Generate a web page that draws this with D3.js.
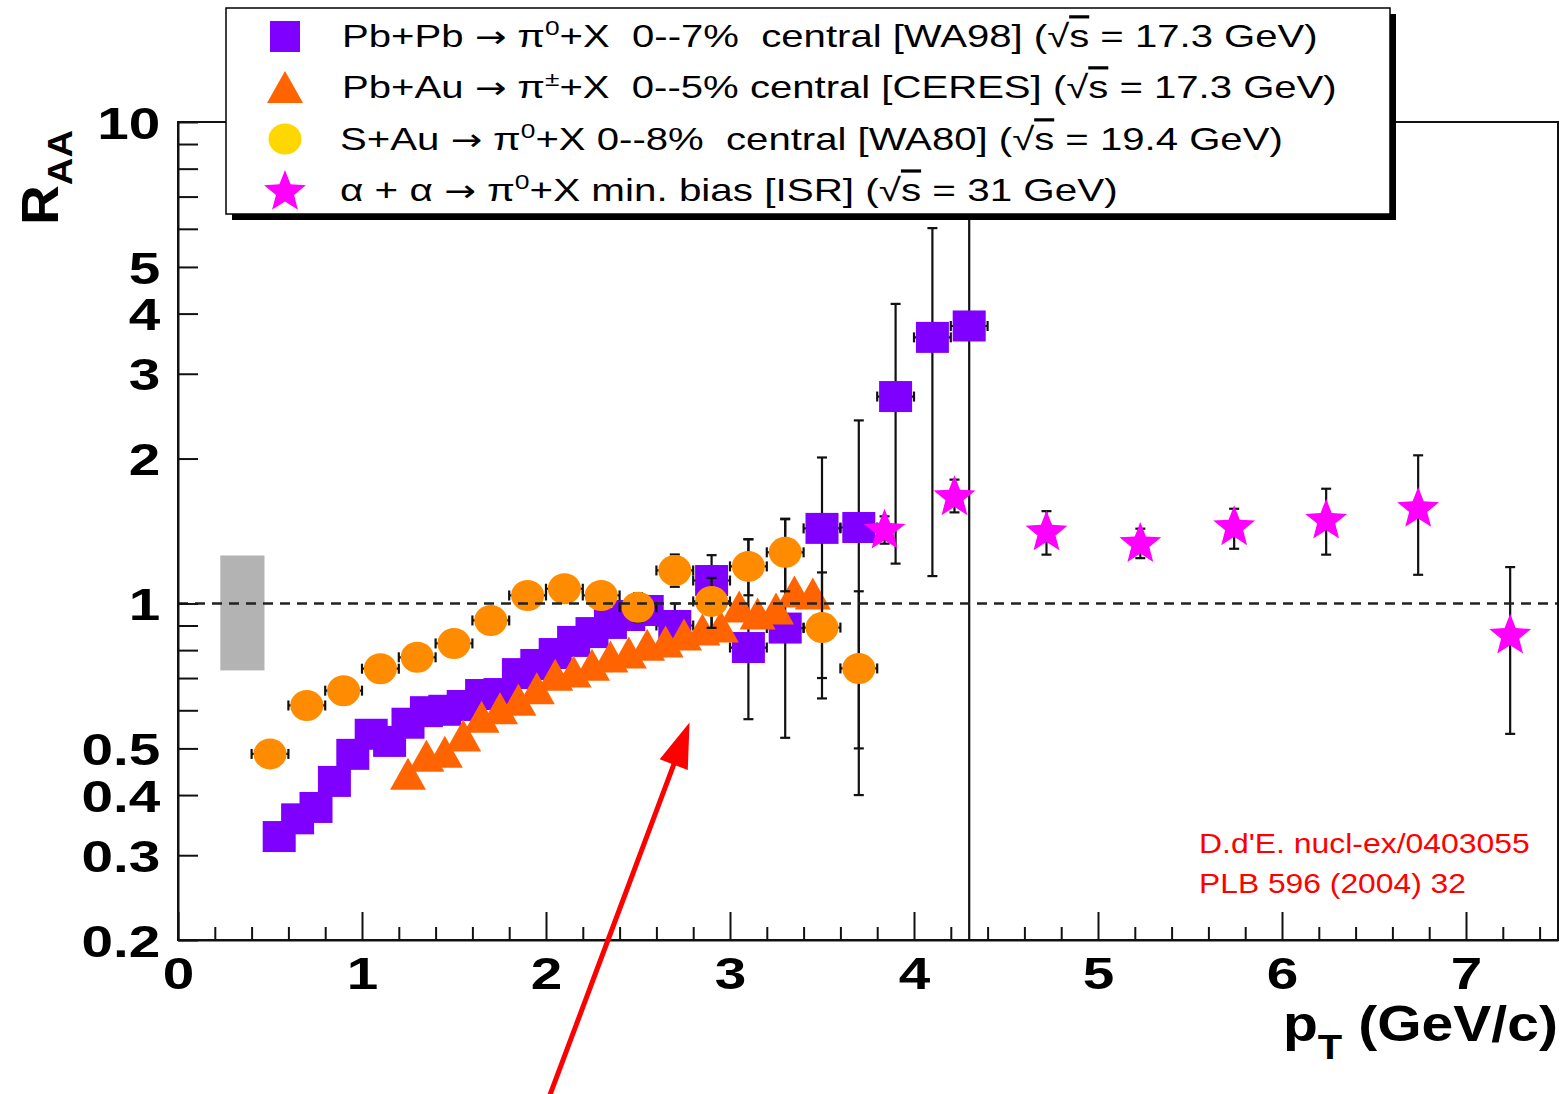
<!doctype html>
<html lang="en">
<head>
<meta charset="utf-8">
<title>R_AA vs pT, SPS and ISR</title>
<style>
body { margin: 0; background: #fff; }
svg text { font-family: "Liberation Sans", Arial, Helvetica, sans-serif; }
.legend text { white-space: pre; }
</style>
<script src="https://d3js.org/d3.v7.min.js"></script>
</head>
<body>
<div class="chart"></div>
<script>

// WA98 Pb+Pb -> pi0, 0-7% central
const wa98X  = [0.55, 0.65, 0.75, 0.85, 0.95, 1.05, 1.15, 1.25, 1.35, 1.45, 1.55, 1.65, 1.75, 1.85, 1.95,
                2.05, 2.15, 2.25, 2.35, 2.45, 2.55, 2.7, 2.9, 3.1, 3.3, 3.5, 3.7, 3.9, 4.1, 4.3];
const wa98Y  = [0.328, 0.357, 0.377, 0.427, 0.486, 0.535, 0.517, 0.564, 0.596, 0.600, 0.614, 0.647, 0.650, 0.715, 0.747,
                0.787, 0.834, 0.870, 0.909, 0.944, 0.967, 0.90, 1.116, 0.81, 0.889, 1.432, 1.438, 2.69, 3.57, 3.77];
const wa98Lo = [null, null, null, null, null, null, null, null, null, null, null, null, null, null, null,
                null, null, null, null, null, null, 0.82, 0.89, 0.575, 0.526, 0.635, 0.40, 1.21, 1.14, 0.15];
const wa98Hi = [null, null, null, null, null, null, null, null, null, null, null, null, null, null, null,
                null, null, null, null, null, null, 1.0, 1.26, 1.359, 1.496, 2.01, 2.40, 4.19, 6.02, 15];
const wa98Ex = [0.05, 0.05, 0.05, 0.05, 0.05, 0.05, 0.05, 0.05, 0.05, 0.05, 0.05, 0.05, 0.05, 0.05, 0.05,
                0.05, 0.05, 0.05, 0.05, 0.05, 0.05, 0.1, 0.1, 0.1, 0.1, 0.1, 0.1, 0.1, 0.1, 0.1];

// CERES Pb+Au -> pi+-, 0-5% central
const ceresX = [1.25, 1.35, 1.45, 1.55, 1.65, 1.75, 1.85, 1.95, 2.05, 2.15, 2.25, 2.35,
                2.45, 2.55, 2.65, 2.75, 2.85, 2.95, 3.05, 3.15, 3.25, 3.35, 3.45];
const ceresY = [0.443, 0.483, 0.492, 0.532, 0.582, 0.606, 0.631, 0.667, 0.711, 0.722, 0.746, 0.776,
                0.791, 0.821, 0.834, 0.862, 0.883, 0.896, 0.986, 0.953, 0.976, 1.059, 1.049];

// WA80 S+Au -> pi0, 0-8% central
const wa80X  = [0.5, 0.7, 0.9, 1.1, 1.3, 1.5, 1.7, 1.9, 2.1, 2.3, 2.5, 2.7, 2.9, 3.1, 3.3, 3.5, 3.7];
const wa80Y  = [0.487, 0.614, 0.659, 0.732, 0.773, 0.826, 0.922, 1.039, 1.073, 1.039, 0.982, 1.171, 1.01, 1.194, 1.277, 0.891, 0.733];
const wa80Lo = [null, null, null, null, null, null, null, null, null, null, 0.915, 1.083, 0.89, 1.04, 1.06, 0.70, 0.50];
const wa80Hi = [null, null, null, null, null, null, null, null, null, null, 1.05, 1.264, 1.13, 1.36, 1.50, 1.16, 1.06];
const wa80Ex = [0.1, 0.1, 0.1, 0.1, 0.1, 0.1, 0.1, 0.1, 0.1, 0.1, 0.1, 0.1, 0.1, 0.1, 0.1, 0.1, 0.1];

// ISR alpha+alpha -> pi0, min. bias
const isrX  = [3.84, 4.22, 4.72, 5.23, 5.74, 6.24, 6.74, 7.24];
const isrY  = [1.43, 1.677, 1.418, 1.341, 1.453, 1.50, 1.586, 0.865];
const isrLo = [1.331, 1.546, 1.263, 1.242, 1.299, 1.263, 1.147, 0.536];
const isrHi = [1.517, 1.808, 1.555, 1.43, 1.573, 1.731, 2.031, 1.19];

// normalisation uncertainty box at R_AA = 1
const boxX = [0.23, 0.47];
const boxY = [0.726, 1.258];

// axis ticks
const xMajor = [0, 1, 2, 3, 4, 5, 6, 7];
const xMinor = [0.2, 0.4, 0.6, 0.8, 1.2, 1.4, 1.6, 1.8, 2.2, 2.4, 2.6, 2.8, 3.2, 3.4, 3.6, 3.8,
                4.2, 4.4, 4.6, 4.8, 5.2, 5.4, 5.6, 5.8, 6.2, 6.4, 6.6, 6.8, 7.2, 7.4];
const yTicks  = [0.2, 0.3, 0.4, 0.5, 0.6, 0.7, 0.8, 0.9, 1, 2, 3, 4, 5, 6, 7, 8, 9, 10];
const yLabels = [0.2, 0.3, 0.4, 0.5, 1, 2, 3, 4, 5, 10];

// legend
const legendRows = [
  [["Pb+Pb "], ["\u2192", "arrow"], [" \u03c0"], ["0", "sup"], ["+X  0--7%  central [WA98] (\u221a"], ["s", "ol"], [" = 17.3 GeV)"]],
  [["Pb+Au "], ["\u2192", "arrow"], [" \u03c0"], ["\u00b1", "sup"], ["+X  0--5% central [CERES] (\u221a"], ["s", "ol"], [" = 17.3 GeV)"]],
  [["S+Au "], ["\u2192", "arrow"], [" \u03c0"], ["0", "sup"], ["+X 0--8%  central [WA80] (\u221a"], ["s", "ol"], [" = 19.4 GeV)"]],
  [["\u03b1 + \u03b1 "], ["\u2192", "arrow"], [" \u03c0"], ["0", "sup"], ["+X min. bias [ISR] (\u221a"], ["s", "ol"], [" = 31 GeV)"]]
];
const legendMarkers = ["square", "triangle", "circle", "star"];

const noteLines = ["D.d'E. nucl-ex/0403055", "PLB 596 (2004) 32"];
const arrowFrom = [2.02, 0.095];
const arrowTo   = [2.78, 0.566];

const W = 1563, H = 1094;
const L = 178, R = 1558, T = 122, B = 940;

const colSquare = "#7f00ff", colTri = "#ff6400", colCirc = "#ff8c00", colCircLeg = "#ffd700", colStar = "#ff00ff";

let svg = d3.select(".chart").append("svg")
  .attr("width", W).attr("height", H);

let x = d3.scaleLinear().domain([0, 7.5]).range([L, R]);
let y = d3.scaleLog().domain([0.2, 10]).range([B, T]);

svg.append("defs").append("clipPath").attr("id", "plotclip")
  .append("rect").attr("x", L).attr("y", T).attr("width", R - L).attr("height", B - T);

// marker shapes, centred on 0,0
function starPath(Ro, Ri) {
  let pts = [];
  for (let i = 0; i < 10; i++) {
    let r = i % 2 ? Ri : Ro;
    let a = -Math.PI / 2 + i * Math.PI / 5;
    pts.push([r * Math.cos(a), r * Math.sin(a) + 2]);
  }
  return "M" + pts.map(p => p.join(",")).join("L") + "Z";
}
function drawMarker(g, kind, cx, cy, col) {
  if (kind === "square") {
    g.append("rect").attr("x", cx - 16.5).attr("y", cy - 15.5).attr("width", 33).attr("height", 31).attr("fill", col);
  } else if (kind === "triangle") {
    g.append("path").attr("d", `M${cx},${cy - 16}L${cx + 18},${cy + 16}L${cx - 18},${cy + 16}Z`).attr("fill", col);
  } else if (kind === "circle") {
    g.append("ellipse").attr("cx", cx).attr("cy", cy).attr("rx", 16.5).attr("ry", 15.5).attr("fill", col);
  } else {
    g.append("path").attr("d", starPath(22, 9.5)).attr("transform", `translate(${cx},${cy})`).attr("fill", col);
  }
}

function drawSeries(xs, ys, lo, hi, ex, kind, col) {
  let g = svg.append("g").attr("clip-path", "url(#plotclip)");
  let eb = g.append("g").attr("stroke", "#111").attr("stroke-width", 2.2).attr("fill", "none");
  xs.forEach((xv, i) => {
    let cx = x(xv), cy = y(ys[i]);
    if (lo && lo[i] != null) {
      let y0 = y(lo[i]), y1 = y(hi[i]);
      eb.append("line").attr("x1", cx).attr("x2", cx).attr("y1", y0).attr("y2", y1);
      eb.append("line").attr("x1", cx - 5).attr("x2", cx + 5).attr("y1", y0).attr("y2", y0);
      eb.append("line").attr("x1", cx - 5).attr("x2", cx + 5).attr("y1", y1).attr("y2", y1);
    }
    if (ex) {
      let x0 = x(xv - ex[i]), x1 = x(xv + ex[i]);
      eb.append("line").attr("x1", x0).attr("x2", x1).attr("y1", cy).attr("y2", cy);
      eb.append("line").attr("x1", x0).attr("x2", x0).attr("y1", cy - 5).attr("y2", cy + 5);
      eb.append("line").attr("x1", x1).attr("x2", x1).attr("y1", cy - 5).attr("y2", cy + 5);
    }
  });
  let mk = g.append("g");
  xs.forEach((xv, i) => drawMarker(mk, kind, x(xv), y(ys[i]), col));
}

// grey normalisation box
svg.append("rect")
  .attr("x", x(boxX[0])).attr("width", x(boxX[1]) - x(boxX[0]))
  .attr("y", y(boxY[1])).attr("height", y(boxY[0]) - y(boxY[1]))
  .attr("fill", "#b3b3b3");

drawSeries(wa98X, wa98Y, wa98Lo, wa98Hi, wa98Ex, "square", colSquare);
drawSeries(ceresX, ceresY, null, null, null, "triangle", colTri);
drawSeries(wa80X, wa80Y, wa80Lo, wa80Hi, wa80Ex, "circle", colCirc);
drawSeries(isrX, isrY, isrLo, isrHi, null, "star", colStar);

// R_AA = 1 reference
svg.append("line")
  .attr("x1", L).attr("x2", R).attr("y1", y(1)).attr("y2", y(1))
  .attr("stroke", "#222").attr("stroke-width", 2.4).attr("stroke-dasharray", "10,7");

// frame
svg.append("rect").attr("x", L).attr("y", T).attr("width", R - L).attr("height", B - T)
  .attr("fill", "none").attr("stroke", "#111").attr("stroke-width", 2);

// x axis
let xAxis = svg.append("g").attr("transform", `translate(0,${B})`)
  .call(d3.axisBottom(x).tickValues(xMajor).tickSizeInner(-28).tickSizeOuter(0).tickPadding(17).tickFormat(d3.format("d")));
svg.append("g").attr("transform", `translate(0,${B})`)
  .call(d3.axisBottom(x).tickValues(xMinor).tickSizeInner(-13).tickSizeOuter(0).tickFormat(""))
  .call(g => g.select(".domain").remove());

// y axis
let yAxis = svg.append("g").attr("transform", `translate(${L},0)`)
  .call(d3.axisLeft(y).tickValues(yTicks).tickSizeInner(-20).tickSizeOuter(0).tickPadding(14)
    .tickFormat(d => yLabels.includes(d) ? String(d) : ""));

svg.selectAll(".tick line, .domain").attr("stroke", "#111").attr("stroke-width", 2);
svg.selectAll(".tick text")
  .attr("fill", "#000")
  .style("font-size", "45px").style("font-weight", "bold")
  .attr("transform", "scale(1.26,1)");
yAxis.selectAll(".tick text").attr("dy", "0.36em");

// stretch a text element to a given width
function fitText(t, x0, y0, width, rot) {
  let w = t.node().getBBox().width;
  t.attr("transform", `translate(${x0},${y0})${rot ? " rotate(" + rot + ")" : ""} scale(${width / w},1)`);
}

// axis titles
let yt = svg.append("text").style("font-weight", "bold").style("font-size", "52px").attr("fill", "#000");
yt.append("tspan").text("R");
yt.append("tspan").attr("dy", 14).style("font-size", "36px").text("AA");
fitText(yt, 58, 225, 95, -90);

let xt = svg.append("text").style("font-weight", "bold").style("font-size", "50px").attr("fill", "#000");
xt.append("tspan").text("p");
xt.append("tspan").attr("dy", 18).style("font-size", "35px").text("T");
xt.append("tspan").attr("dy", -18).text(" (GeV/c)");
fitText(xt, 1283, 1041, 275);

// legend
let leg = svg.append("g").attr("class", "legend");
leg.append("rect").attr("x", 232).attr("y", 14).attr("width", 1164).attr("height", 206).attr("fill", "#000");
leg.append("rect").attr("x", 226).attr("y", 8).attr("width", 1164).attr("height", 206)
  .attr("fill", "#fff").attr("stroke", "#000").attr("stroke-width", 1.5);

const rowY = [36, 87, 139, 190];
const rowX0 = [342, 342, 340, 340];
const rowW = [976, 995, 943, 778];
const legCols = [colSquare, colTri, colCircLeg, colStar];

legendRows.forEach((parts, i) => {
  let mg = leg.append("g");
  if (legendMarkers[i] === "square") {
    mg.append("rect").attr("x", 285 - 15).attr("y", rowY[i] - 15).attr("width", 30).attr("height", 31).attr("fill", legCols[i]);
  } else {
    drawMarker(mg, legendMarkers[i], 285, rowY[i], legCols[i]);
  }
  let t = leg.append("text").style("font-size", "32px").attr("fill", "#000");
  let shift = 0;
  parts.forEach(p => {
    let s = t.append("tspan").text(p[0]);
    if (p[1] === "sup") {
      s.attr("dy", -12).style("font-size", "21px");
      shift = 12;
    } else {
      if (shift) { s.attr("dy", shift); shift = 0; }
      if (p[1] === "ol") s.style("text-decoration", "overline");
      if (p[1] === "arrow") s.style("font-family", "'DejaVu Sans', sans-serif").style("font-size", "30px");
    }
  });
  fitText(t, rowX0[i], rowY[i] + 11, rowW[i]);
});

// reference note
const noteW = [331, 267];
noteLines.forEach((s, i) => {
  let t = svg.append("text").style("font-size", "28px").attr("fill", "#ff0000").text(s);
  fitText(t, 1199, 853 + i * 40, noteW[i]);
});

// red arrow
let p0 = [x(arrowFrom[0]), y(arrowFrom[1])], p1 = [x(arrowTo[0]), y(arrowTo[1])];
let dx = p1[0] - p0[0], dy = p1[1] - p0[1], len = Math.hypot(dx, dy);
let ux = dx / len, uy = dy / len;
let hb = [p1[0] - ux * 45, p1[1] - uy * 45];
svg.append("line").attr("x1", p0[0]).attr("y1", p0[1]).attr("x2", hb[0] + ux * 4).attr("y2", hb[1] + uy * 4)
  .attr("stroke", "#ff0000").attr("stroke-width", 5);
svg.append("path")
  .attr("d", `M${p1[0]},${p1[1]}L${hb[0] - uy * 15},${hb[1] + ux * 15}L${hb[0] + uy * 15},${hb[1] - ux * 15}Z`)
  .attr("fill", "#ff0000");

</script>
</body>
</html>
